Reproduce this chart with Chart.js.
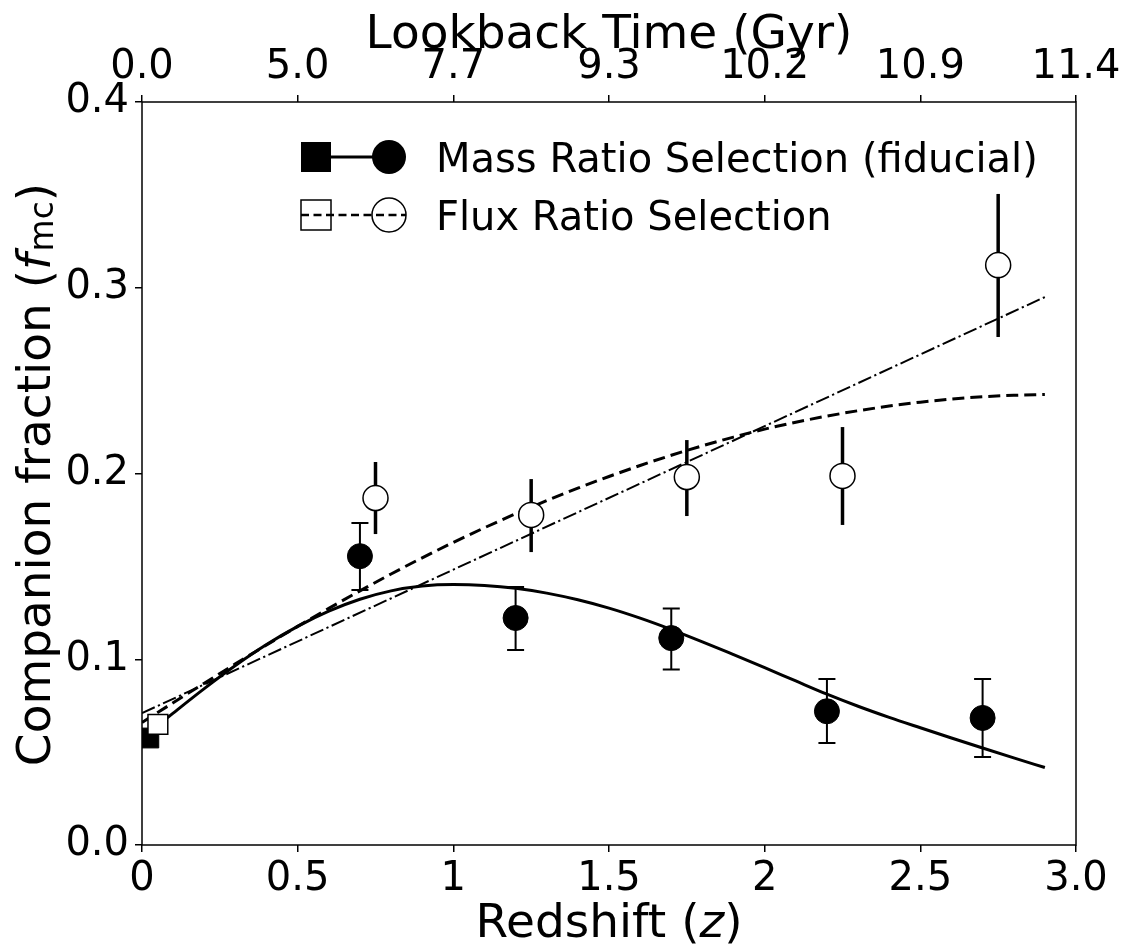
<!DOCTYPE html>
<html>
<head>
<meta charset="utf-8">
<script src="https://cdn.jsdelivr.net/npm/chart.js@4/dist/chart.umd.min.js"></script>
<style>
  html, body { margin: 0; padding: 0; background: #fff; }
  canvas { display: block; }
</style>
</head>
<body>
<canvas id="fracChart" width="1127" height="945"></canvas>
<script>
// redshift tick labels (bottom) and lookback time labels (top)
const zTicks = [0, 0.5, 1, 1.5, 2, 2.5, 3];
const zTickLabels = ["0", "0.5", "1", "1.5", "2", "2.5", "3.0"];
const lookbackLabels = ["0.0", "5.0", "7.7", "9.3", "10.2", "10.9", "11.4"];
const fracTickLabels = ["0.0", "0.1", "0.2", "0.3", "0.4"];

// mass ratio selection (fiducial)
const massZ = [0.7, 1.2, 1.7, 2.2, 2.7];
const massFrac = [0.1555, 0.1222, 0.1114, 0.0720, 0.0684];
const massLow = [0.1373, 0.1050, 0.0945, 0.0549, 0.0474];
const massHigh = [0.1733, 0.1389, 0.1273, 0.0894, 0.0894];
const massLocalZ = [0.022];
const massLocalFrac = [0.0576];
const massLocalLow = [0.0553];
const massLocalHigh = [0.0600];

// flux ratio selection
const fluxZ = [0.75, 1.25, 1.75, 2.25, 2.75];
const fluxFrac = [0.1868, 0.1777, 0.1981, 0.1987, 0.3122];
const fluxLow = [0.1674, 0.1577, 0.1771, 0.1723, 0.2735];
const fluxHigh = [0.2062, 0.1970, 0.2180, 0.2250, 0.3505];
const fluxLocalZ = [0.051];
const fluxLocalFrac = [0.0649];

// fitted curves
const curveZ = [0, 0.1, 0.2, 0.3, 0.4, 0.5, 0.6, 0.7, 0.8, 0.9, 1.0, 1.1, 1.2, 1.3, 1.4,
                1.5, 1.6, 1.7, 1.8, 1.9, 2.0, 2.1, 2.2, 2.3, 2.4, 2.5, 2.6, 2.7, 2.8, 2.9];
const massFit = [0.0575, 0.0710, 0.0842, 0.0966, 0.1079, 0.1177, 0.1259, 0.1323, 0.1368, 0.1394,
                 0.1402, 0.1397, 0.1382, 0.1356, 0.1320, 0.1275, 0.1221, 0.1160, 0.1094, 0.1025,
                 0.0955, 0.0883, 0.0812, 0.0747, 0.0687, 0.0631, 0.0576, 0.0522, 0.0469, 0.0417];
const fluxFit = [0.0660, 0.0766, 0.0871, 0.0975, 0.1077, 0.1177, 0.1274, 0.1368, 0.1459, 0.1546,
                 0.1629, 0.1708, 0.1783, 0.1854, 0.1921, 0.1984, 0.2043, 0.2098, 0.2149, 0.2196,
                 0.2239, 0.2276, 0.2309, 0.2338, 0.2363, 0.2384, 0.2401, 0.2413, 0.2421, 0.2425];
const linearZ = [0, 2.9];
const linearFit = [0.071, 0.295];

const FONT = "DejaVu Sans";

function pts(xs, ys) {
    return xs.map((x, i) => ({ x: x, y: ys[i] }));
}

// error bars, drawn under the markers
const errorBars = {
    id: "errorBars",
    beforeDatasetsDraw(chart) {
        const ctx = chart.ctx;
        const xs = chart.scales.x;
        const ys = chart.scales.y;
        const groups = [
            { z: massZ, lo: massLow, hi: massHigh, lw: 2, cap: 8.5 },
            { z: massLocalZ, lo: massLocalLow, hi: massLocalHigh, lw: 2, cap: 0 },
            { z: fluxZ, lo: fluxLow, hi: fluxHigh, lw: 3.5, cap: 0 },
        ];
        ctx.save();
        ctx.strokeStyle = "#000";
        groups.forEach(g => {
            ctx.lineWidth = g.lw;
            g.z.forEach((z, i) => {
                const px = xs.getPixelForValue(z);
                const y1 = ys.getPixelForValue(g.lo[i]);
                const y2 = ys.getPixelForValue(g.hi[i]);
                ctx.beginPath();
                ctx.moveTo(px, y1);
                ctx.lineTo(px, y2);
                if (g.cap > 0) {
                    ctx.moveTo(px - g.cap, y1);
                    ctx.lineTo(px + g.cap, y1);
                    ctx.moveTo(px - g.cap, y2);
                    ctx.lineTo(px + g.cap, y2);
                }
                ctx.stroke();
            });
        });
        ctx.restore();
    }
};

// frame, axis titles and legend
const decorations = {
    id: "decorations",
    afterDraw(chart) {
        const ctx = chart.ctx;
        const a = chart.chartArea;
        ctx.save();
        ctx.strokeStyle = "#000";
        ctx.lineWidth = 1.5;
        ctx.strokeRect(a.left, a.top, a.right - a.left, a.bottom - a.top);

        ctx.fillStyle = "#000";
        ctx.textBaseline = "alphabetic";
        const cx = (a.left + a.right) / 2;

        // top title
        ctx.font = "47px " + FONT;
        ctx.textAlign = "center";
        ctx.fillText("Lookback Time (Gyr)", cx, 48);

        // bottom title with italic z
        ctx.textAlign = "left";
        const p1 = "Redshift (", p3 = ")";
        ctx.font = "47px " + FONT;
        const w1 = ctx.measureText(p1).width, w3 = ctx.measureText(p3).width;
        ctx.font = "italic 47px " + FONT;
        const w2 = ctx.measureText("z").width;
        let x0 = cx - (w1 + w2 + w3) / 2;
        ctx.font = "47px " + FONT;
        ctx.fillText(p1, x0, 937);
        ctx.font = "italic 47px " + FONT;
        ctx.fillText("z", x0 + w1, 937);
        ctx.font = "47px " + FONT;
        ctx.fillText(p3, x0 + w1 + w2, 937);

        // left title, rotated, with italic f and subscript mc
        ctx.save();
        ctx.translate(50, (a.top + a.bottom) / 2 + 1);
        ctx.rotate(-Math.PI / 2);
        const q1 = "Companion fraction (", q4 = ")";
        ctx.font = "47px " + FONT;
        const v1 = ctx.measureText(q1).width, v4 = ctx.measureText(q4).width;
        ctx.font = "italic 47px " + FONT;
        const v2 = ctx.measureText("f").width + 2;
        ctx.font = "33px " + FONT;
        const v3 = ctx.measureText("mc").width;
        let t = -(v1 + v2 + v3 + v4) / 2;
        ctx.font = "47px " + FONT;
        ctx.fillText(q1, t, 0);
        ctx.font = "italic 47px " + FONT;
        ctx.fillText("f", t + v1, 0);
        ctx.font = "33px " + FONT;
        ctx.fillText("mc", t + v1 + v2, 3);
        ctx.font = "47px " + FONT;
        ctx.fillText(q4, t + v1 + v2 + v3, 0);
        ctx.restore();

        // legend
        const sq = 30, r = 17;
        const xs = 316, xc = 389, yA = 157, yB = 215;
        ctx.lineWidth = 3;
        ctx.beginPath();
        ctx.moveTo(xs, yA);
        ctx.lineTo(xc, yA);
        ctx.stroke();
        ctx.fillRect(xs - sq / 2, yA - sq / 2, sq, sq);
        ctx.beginPath();
        ctx.arc(xc, yA, r, 0, Math.PI * 2);
        ctx.fill();

        ctx.lineWidth = 1.5;
        ctx.strokeRect(xs - sq / 2, yB - sq / 2, sq, sq);
        ctx.beginPath();
        ctx.arc(xc, yB, r, 0, Math.PI * 2);
        ctx.stroke();
        ctx.lineWidth = 2.5;
        ctx.setLineDash([8, 4.5]);
        ctx.beginPath();
        ctx.moveTo(xs - sq / 2, yB);
        ctx.lineTo(xc + r, yB);
        ctx.stroke();
        ctx.setLineDash([]);

        ctx.font = "40px " + FONT;
        ctx.textAlign = "left";
        ctx.fillText("Mass Ratio Selection (fiducial)", 436, 172);
        ctx.fillText("Flux Ratio Selection", 436, 230);
        ctx.restore();
    }
};

const tickGrid = {
    display: true,
    drawOnChartArea: false,
    drawTicks: true,
    tickLength: 7,
    tickWidth: 1.5,
    tickColor: "#000",
    lineWidth: 1.5,
    color: "#000"
};

const ctx = document.getElementById("fracChart").getContext("2d");
new Chart(ctx, {
    type: "line",
    data: {
        datasets: [
            {
                label: "mass fit",
                data: pts(curveZ, massFit),
                borderColor: "#000",
                borderWidth: 3,
                pointRadius: 0,
                cubicInterpolationMode: "monotone",
                fill: false,
                order: 6
            },
            {
                label: "flux fit",
                data: pts(curveZ, fluxFit),
                borderColor: "#000",
                borderWidth: 3,
                borderDash: [12, 6],
                pointRadius: 0,
                cubicInterpolationMode: "monotone",
                fill: false,
                order: 6
            },
            {
                label: "linear fit",
                data: pts(linearZ, linearFit),
                borderColor: "#000",
                borderWidth: 2,
                borderDash: [14, 3.5, 2.2, 3.5],
                pointRadius: 0,
                fill: false,
                order: 6
            },
            {
                label: "Mass Ratio local",
                data: pts(massLocalZ, massLocalFrac),
                showLine: false,
                pointStyle: "rect",
                pointRadius: 14,
                backgroundColor: "#000",
                borderColor: "#000",
                borderWidth: 1,
                order: 4
            },
            {
                label: "Flux Ratio local",
                data: pts(fluxLocalZ, fluxLocalFrac),
                showLine: false,
                pointStyle: "rect",
                pointRadius: 14,
                backgroundColor: "#fff",
                borderColor: "#000",
                borderWidth: 1.5,
                order: 3
            },
            {
                label: "Mass Ratio Selection (fiducial)",
                data: pts(massZ, massFrac),
                showLine: false,
                pointStyle: "circle",
                pointRadius: 12.5,
                backgroundColor: "#000",
                borderColor: "#000",
                borderWidth: 1,
                order: 1
            },
            {
                label: "Flux Ratio Selection",
                data: pts(fluxZ, fluxFrac),
                showLine: false,
                pointStyle: "circle",
                pointRadius: 12.5,
                backgroundColor: "#fff",
                borderColor: "#000",
                borderWidth: 1.5,
                order: 1
            }
        ]
    },
    options: {
        responsive: false,
        animation: false,
        devicePixelRatio: 1,
        layout: { padding: { left: 0, right: 51, top: 0, bottom: 0 } },
        plugins: {
            legend: { display: false },
            tooltip: { enabled: false }
        },
        scales: {
            x: {
                type: "linear",
                position: "bottom",
                min: 0,
                max: 3,
                afterBuildTicks: (scale) => { scale.ticks = zTicks.map(v => ({ value: v })); },
                afterFit: (scale) => { scale.height = 100; },
                ticks: {
                    autoSkip: false,
                    maxRotation: 0,
                    padding: 4,
                    color: "#000",
                    font: { family: FONT, size: 40 },
                    callback: (v) => zTickLabels[zTicks.indexOf(v)]
                },
                grid: tickGrid,
                border: { display: false },
                title: { display: false }
            },
            xTop: {
                type: "linear",
                position: "top",
                min: 0,
                max: 3,
                afterBuildTicks: (scale) => { scale.ticks = zTicks.map(v => ({ value: v })); },
                afterFit: (scale) => { scale.height = 102; },
                ticks: {
                    autoSkip: false,
                    maxRotation: 0,
                    padding: 3,
                    color: "#000",
                    font: { family: FONT, size: 40 },
                    callback: (v) => lookbackLabels[zTicks.indexOf(v)]
                },
                grid: tickGrid,
                border: { display: false }
            },
            y: {
                type: "linear",
                position: "left",
                min: 0,
                max: 0.4,
                afterBuildTicks: (scale) => { scale.ticks = fracTickLabels.map(s => ({ value: parseFloat(s) })); },
                afterFit: (scale) => { scale.width = 142; },
                ticks: {
                    padding: 6,
                    color: "#000",
                    font: { family: FONT, size: 40 },
                    callback: (v) => fracTickLabels.find(s => Math.abs(parseFloat(s) - v) < 1e-9)
                },
                grid: tickGrid,
                border: { display: false }
            }
        }
    },
    plugins: [errorBars, decorations]
});
</script>
</body>
</html>
